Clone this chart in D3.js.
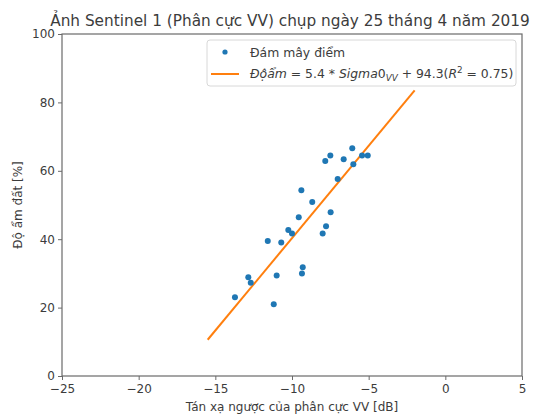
<!DOCTYPE html>
<html><head><meta charset="utf-8">
<script src="https://cdn.jsdelivr.net/npm/d3@7"></script>
<style>
html,body{margin:0;padding:0;background:#fff;}
text{font-family:"DejaVu Sans",sans-serif;}
</style></head>
<body><svg id="chart" width="536" height="415"></svg>
<script>
// Data
const sigmaVV = [-13.72,-12.85,-12.69,-11.19,-11.00,-11.58,-10.70,-10.24,-10.00,-9.56,-9.39,-9.30,-9.35,-8.68,-8.00,-7.78,-7.48,-7.02,-7.83,-7.50,-6.63,-6.07,-6.00,-5.43,-5.06];
const soilMoisture = [23.0,28.9,27.3,21.0,29.4,39.5,39.0,42.7,41.7,46.4,54.3,31.8,30.0,50.9,41.7,43.8,47.9,57.6,62.9,64.5,63.4,66.6,61.9,64.5,64.5];
const fitX = [-15.5, -2.0];
const fitY = [10.6, 83.5];
const xTicks = [-25,-20,-15,-10,-5,0,5];
const yTicks = [0,20,40,60,80,100];

const svg = d3.select("#chart");
const m = {l:62, r:522, t:34, b:376};
const x = d3.scaleLinear().domain([-25,5]).range([m.l,m.r]);
const y = d3.scaleLinear().domain([0,100]).range([m.b,m.t]);
const textCol = "#3c3c3c", axisCol = "#6a6a6a";

// axes
const xAxis = svg.append("g").attr("transform",`translate(0,${m.b})`)
  .call(d3.axisBottom(x).tickValues(xTicks).tickSize(4).tickPadding(4).tickFormat(d=>d<0?"\u2212"+Math.abs(d):d));
const yAxis = svg.append("g").attr("transform",`translate(${m.l},0)`)
  .call(d3.axisLeft(y).tickValues(yTicks).tickSize(4).tickPadding(3));
[xAxis,yAxis].forEach(a=>{
  a.select(".domain").remove();
  a.selectAll("line").attr("stroke",axisCol);
  a.selectAll("text").attr("fill",textCol).style("font-size","12px").style("font-family","DejaVu Sans");
});
svg.append("rect").attr("x",m.l).attr("y",m.t).attr("width",m.r-m.l).attr("height",m.b-m.t)
  .attr("fill","none").attr("stroke",axisCol).attr("stroke-width",1.2);

// fit line
const pts = fitX.map((v,i)=>[v,fitY[i]]);
svg.append("path").attr("d",d3.line().x(d=>x(d[0])).y(d=>y(d[1]))(pts))
  .attr("stroke","#ff7f0e").attr("stroke-width",2).attr("fill","none");

// points
svg.append("g").selectAll("circle").data(sigmaVV.map((v,i)=>[v,soilMoisture[i]])).join("circle")
  .attr("cx",d=>x(d[0])).attr("cy",d=>y(d[1])).attr("r",3).attr("fill","#1f77b4");

// title
svg.append("text").attr("x",290).attr("y",26).attr("text-anchor","middle")
  .attr("fill",textCol).style("font-size","15.3px").text("Ảnh Sentinel 1 (Phân cực VV) chụp ngày 25 tháng 4 năm 2019");
// axis labels
svg.append("text").attr("x",(m.l+m.r)/2).attr("y",411).attr("text-anchor","middle")
  .attr("fill",textCol).style("font-size","12px").text("Tán xạ ngược của phân cực VV [dB]");
svg.append("text").attr("transform",`translate(22,${(m.t+m.b)/2}) rotate(-90)`).attr("text-anchor","middle")
  .attr("fill",textCol).style("font-size","12px").text("Độ ẩm đất [%]");

// legend
const lg = svg.append("g");
lg.append("rect").attr("x",207).attr("y",40).attr("width",309).attr("height",46).attr("rx",3)
  .attr("fill","#fff").attr("stroke","#d8d8d8");
lg.append("circle").attr("cx",225).attr("cy",52).attr("r",2.6).attr("fill","#1f77b4");
lg.append("text").attr("x",250).attr("y",56.5).attr("fill",textCol).style("font-size","12.4px").text("Đám mây điểm");
lg.append("line").attr("x1",211).attr("x2",239).attr("y1",74).attr("y2",74).attr("stroke","#ff7f0e").attr("stroke-width",2);
const ft = lg.append("text").attr("x",250).attr("y",78).attr("fill",textCol).style("font-size","12.4px");
ft.append("tspan").style("font-style","italic").text("Độẩm");
ft.append("tspan").text(" = 5.4 * ");
ft.append("tspan").style("font-style","italic").text("Sigma");
ft.append("tspan").text("0");
ft.append("tspan").style("font-style","italic").style("font-size","8.8px").attr("dy",3).text("VV");
ft.append("tspan").attr("dy",-3).text(" + 94.3(");
ft.append("tspan").style("font-style","italic").text("R");
ft.append("tspan").style("font-size","8.8px").attr("dy",-5).text("2");
ft.append("tspan").attr("dy",5).text(" = 0.75)");
</script></body></html>
